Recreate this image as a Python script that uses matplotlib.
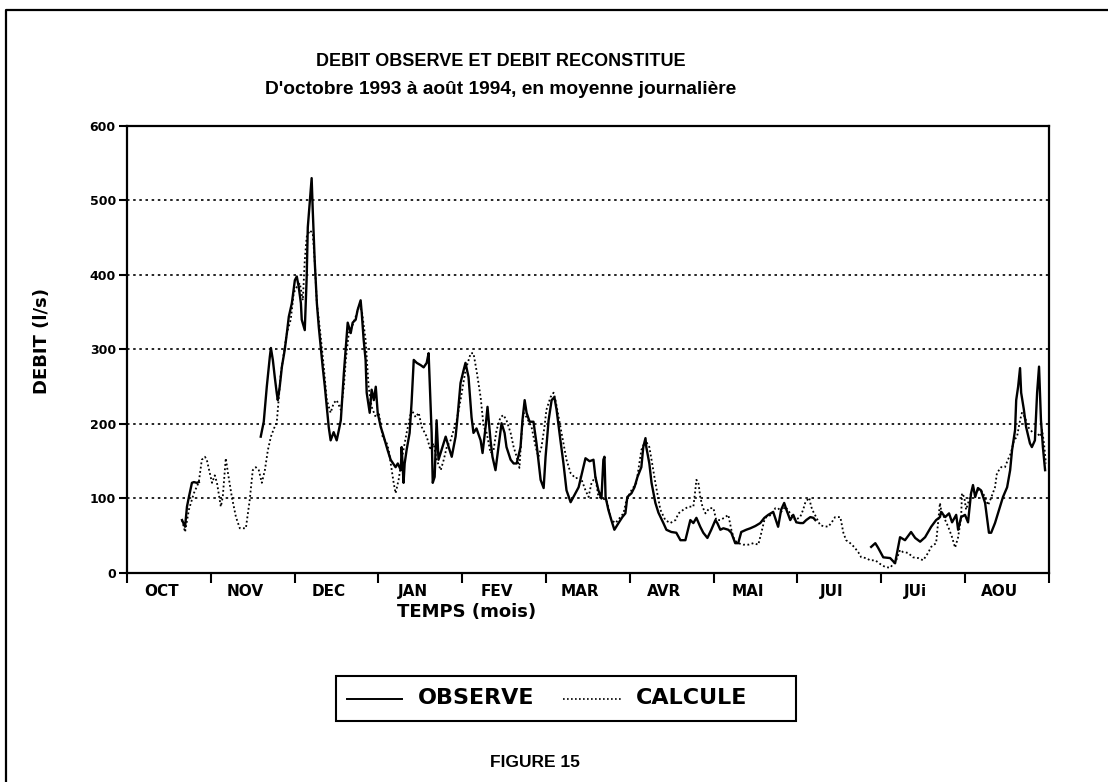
import numpy as np
import matplotlib
matplotlib.use("Agg")
from matplotlib import pyplot as plt
from matplotlib.patches import Rectangle
from matplotlib.lines import Line2D

# Month labels (oct 1993 -> aug 1994), x axis in days from 1 october
months = ["OCT", "NOV", "DEC", "JAN", "FEV", "MAR", "AVR", "MAI", "JUI", "JUi", "AOU"]
n_days = 335

# Observed flow (l/s); nan marks missing records
obs_day = [20.0, 21.1, 21.8, 22.5, 23.6, 24.3, 25.4, 26.1, np.nan,
           48.6, 49.7, 50.8, 51.9, 52.3, 53.0, 53.7, 54.4, 54.8, 55.5, 56.3, 57.3, 58.1, 58.8,
           59.9, 61.0, 61.7, 62.4, 63.2, 63.5, 64.6, 65.3, 65.7, 66.4, 67.1, 67.5, 68.2, 69.0,
           69.7, 70.4, 71.1, 71.9, 72.6, 73.3, 74.0, 75.1, 76.2, 77.0, 77.7, 78.8, 79.5, 80.2,
           81.3, 82.0, 83.1, 83.8, 84.9, 85.3, 86.0, 86.7, 87.1, 88.2, 88.9, 89.7, 90.4, 91.1,
           92.2, 92.9, 94.0, 94.7, 95.8, 97.6, 98.4, 99.5, 99.8, 100.5, 100.9, 101.6, 102.7,
           103.4, 104.2, 105.3, 106.7, 107.8, 108.9, 109.6, 110.0, 110.7, 111.1, 111.8, 112.5,
           113.2, 114.3, 115.8, 116.9, 118.0, 119.4, 120.1, 121.2, 122.3, 123.0, 124.1, 125.2,
           125.9, 127.0, 128.5, 129.2, 130.3, 131.0, 132.1, 132.8, 133.9, 135.0, 136.1, 137.2,
           137.9, 139.4, 140.5, 141.6, 143.0, 143.7, 144.5, 145.2, 146.3, 147.7, 148.8, 150.3,
           151.4, 152.1, 153.2, 154.3, 155.3, 156.1, 157.5, 158.6, 159.7, 161.2, 162.2, 164.1,
           166.6, 168.1, 169.5, 170.2, 171.3, 172.4, 173.1, 173.5, 173.9, 174.9, 176.0, 177.1,
           178.6, 180.0, 181.1, 181.8, 183.3, 184.4, 185.5, 186.9, 187.6, 188.4, 188.7, 189.8,
           190.6, 192.0, 193.1, 194.9, 196.0, 197.8, 199.6, 201.1, 202.9, 204.7, 205.8, 206.9,
           208.3, 209.4, 210.9, 212.3, 213.8, 214.5, 215.6, 216.7, 218.5, 219.6, 221.0, 222.1,
           223.2, 225.0, 226.5, 228.3, 230.1, 231.6, 233.0, 234.8, 236.6, 237.7, 238.8, 239.6,
           241.0, 242.1, 243.2, 244.6, 245.7, 246.8, 248.3, 249.4, 250.1, np.nan,
           270.4, 271.9, 272.9, 274.8, 277.3, 279.1, 279.5, 280.9, 282.7, 284.9, 286.4, 288.2,
           290.0, 292.2, 294.0, 295.4, 295.8, 297.3, 298.7, 299.8, 301.3, 302.0, 303.1, 304.5,
           305.6, 306.7, 307.4, 308.2, 309.2, 310.3, 311.8, 313.2, 314.0, 315.4, 316.9, 318.3,
           319.8, 320.9, 321.6, 322.7, 323.1, 323.8, 324.5, 324.9, 325.9, 326.7, 328.1, 328.8,
           329.9, 330.7, 331.4, 332.1, 332.8, 333.6]
obs_val = [71, 62, 89, 102, 121, 122, 121, 122, np.nan,
           183, 203, 250, 290, 302, 286, 263, 242, 232, 250, 277, 299, 322, 344,
           362, 393, 398, 384, 362, 340, 326, 397, 464, 497, 530, 487, 420, 362,
           330, 303, 277, 250, 223, 196, 178, 189, 178, 192, 205, 268, 303, 336,
           322, 336, 340, 353, 366, 349, 313, 286, 242, 215, 246, 232, 250, 215,
           196, 188, 174, 165, 152, 142, 147, 138, 169, 121, 147, 165, 188,
           228, 286, 282, 279, 276, 282, 295, 255, 188, 121, 129, 205,
           152, 165, 183, 169, 156, 183, 209, 255, 272, 282, 263, 209,
           188, 194, 178, 161, 196, 223, 178, 156, 138, 169, 201, 188,
           169, 152, 147, 147, 169, 205, 232, 215, 203, 203, 174, 125,
           114, 156, 205, 232, 236, 219, 178, 147, 111, 95, 102, 115,
           154, 150, 152, 129, 111, 100, 152, 156, 102, 85, 71, 58,
           67, 75, 80, 102, 107, 115, 129, 142, 169, 181, 169, 147,
           121, 94, 81, 67, 58, 55, 54, 44, 44, 71, 67, 74,
           62, 54, 47, 58, 71, 67, 58, 60, 58, 54, 40, 40,
           55, 58, 60, 63, 67, 74, 78, 82, 62, 85, 94, 85,
           71, 78, 68, 67, 67, 71, 75, 74, 71, np.nan,
           35, 40, 34, 21, 20, 13, 21, 48, 44, 55, 47, 42,
           48, 62, 71, 75, 82, 75, 80, 68, 78, 58, 75, 78,
           68, 107, 118, 102, 114, 111, 94, 54, 54, 67, 85, 102,
           115, 138, 165, 192, 232, 250, 275, 242, 219, 196, 174, 169,
           178, 242, 277, 205, 169, 138]

# Reconstituted (model) flow (l/s)
calc_day = [20.0, 21.1, 22.5, 24.3, 26.1, 27.2, 28.3, 29.0, 30.1, 30.9, 31.9, 32.7, 34.1,
            34.8, 35.9, 36.7, 38.1, 39.6, 41.0, 42.1, 43.2, 44.6, 45.7, 46.8, 47.9, 49.0,
            50.1, 51.2, 52.3, 53.4, 54.4, 55.9, 57.0, 58.1, 59.5, 60.6, 61.7, 62.8, 63.9,
            64.6, 65.3, 66.4, 67.5, 68.2, 69.0, 70.4, 71.5, 72.6, 74.0, 75.1, 76.2, 77.7,
            78.8, 79.5, 80.6, 81.7, 83.1, 84.2, 85.3, 86.7, 87.8, 88.9, 90.4, 91.5, 92.9,
            94.4, 95.1, 96.9, 97.6, 98.7, 99.8, 101.6, 103.4, 104.9, 106.0, 107.1, 108.9,
            110.3, 111.4, 112.5, 114.0, 115.1, 116.2, 117.6, 118.7, 119.8, 121.2, 123.0,
            124.9, 125.9, 127.0, 128.5, 129.6, 130.7, 132.1, 133.2, 134.3, 135.7, 136.8,
            137.9, 139.4, 140.5, 141.6, 142.6, 143.4, 144.1, 145.2, 147.0, 148.5, 149.5,
            150.6, 151.7, 152.4, 153.9, 155.0, 155.7, 157.5, 158.6, 159.7, 161.2, 163.0,
            164.8, 166.6, 167.7, 168.8, 170.2, 171.3, 174.2, 176.0, 177.5, 179.3, 180.4,
            181.5, 183.3, 185.1, 186.9, 188.4, 189.8, 190.6, 192.0, 193.8, 195.6, 197.4,
            199.3, 200.4, 202.2, 204.0, 205.8, 206.5, 206.9, 207.6, 208.3, 209.1, 210.2,
            211.6, 213.1, 214.1, 215.6, 217.4, 218.5, 219.6, 220.7, 222.1, 223.9, 225.8,
            227.6, 229.4, 230.5, 231.6, 232.3, 234.1, 235.6, 236.6, 237.7, 239.2, 241.0,
            242.8, 244.6, 245.7, 246.5, 247.9, 248.6, 249.4, 250.4, 251.9, 253.0, 254.8,
            255.9, 257.3, 259.2, 260.3, 261.3, 262.8, 264.2, 265.7, 266.8, 268.6, 270.0,
            271.9, 273.7, 275.5, 277.3, 279.5, 280.9, 282.0, 283.8, 285.6, 287.5, 289.3,
            291.1, 292.2, 294.0, 294.7, 295.4, 295.8, 297.3, 298.4, 299.8, 300.9, 302.0,
            303.1, 303.4, 304.2, 304.9, 306.7, 308.2, 310.3, 311.8, 312.9, 314.0, 315.4,
            316.1, 317.6, 319.0, 320.1, 321.2, 322.3, 323.4, 324.5, 325.2, 326.3, 327.4,
            329.2, 330.7, 331.8, 332.5, 333.2, 333.9]
calc_val = [71, 55, 85, 107, 122, 152, 156, 152, 134, 121, 131, 121, 89,
            102, 154, 134, 102, 75, 60, 60, 60, 98, 138, 142, 138, 121,
            138, 165, 183, 194, 201, 268, 295, 322, 340, 376, 384, 389, 366,
            420, 451, 460, 456, 420, 362, 317, 277, 232, 215, 228, 232, 219,
            250, 286, 322, 330, 344, 357, 353, 313, 250, 223, 209, 215, 183,
            174, 165, 121, 107, 125, 152, 188, 219, 209, 215, 196, 183,
            165, 174, 152, 138, 152, 169, 178, 192, 205, 232, 272,
            295, 295, 272, 236, 196, 188, 161, 165, 192, 209, 212,
            205, 188, 169, 156, 141, 188, 215, 209, 196, 169, 156,
            169, 196, 219, 236, 242, 232, 196, 174, 152, 134, 127,
            129, 111, 102, 121, 129, 102, 98, 71, 67, 75, 80,
            98, 111, 121, 165, 178, 169, 152, 121, 85, 71, 67,
            71, 80, 85, 89, 89, 111, 125, 122, 102, 89, 80,
            87, 87, 71, 71, 75, 78, 58, 44, 40, 38, 38,
            40, 38, 54, 71, 75, 78, 87, 87, 82, 89, 80,
            71, 75, 85, 95, 101, 89, 82, 75, 64, 63, 62,
            67, 75, 75, 54, 44, 40, 35, 28, 21, 20, 17,
            17, 12, 8, 7, 17, 31, 28, 27, 21, 20, 17,
            27, 35, 40, 67, 94, 85, 71, 62, 48, 34, 48,
            75, 107, 102, 85, 107, 111, 111, 102, 91, 101, 115,
            134, 142, 142, 152, 161, 178, 183, 205, 215, 209, 196,
            188, 188, 183, 192, 174, 147]

yticks = [0, 100, 200, 300, 400, 500, 600]

plt.rcParams["font.family"] = ["Liberation Sans", "DejaVu Sans"]
plt.rcParams["font.weight"] = "bold"
wide = ["DejaVu Sans"]

fig = plt.figure(figsize=(11.08, 7.82), dpi=100)
fig.patch.set_facecolor("white")

# outer frame of the page (left and top edges)
frame = Line2D([0.005, 0.005, 0.999], [0.0, 0.987, 0.987],
               transform=fig.transFigure, color="k", lw=1.6)
fig.add_artist(frame)

ax = fig.add_axes([0.1146, 0.2673, 0.8321, 0.5716])
ax.plot(calc_day, calc_val, color="k", lw=1.3, linestyle=(0, (1, 1.4)))
ax.plot(obs_day, obs_val, color="k", lw=1.7)

ax.set_xlim(0, n_days)
ax.set_ylim(0, 600)
edges = np.linspace(0, n_days, len(months) + 1)
ax.set_xticks(edges)
ax.set_xticklabels([])
ax.set_xticks((edges[:-1] + edges[1:]) / 2 - 2.8, minor=True)
ax.set_xticklabels(months, minor=True, fontsize=11, fontweight="bold", family=wide)
ax.tick_params(axis="x", which="major", direction="out", length=7, width=1.5)
ax.tick_params(axis="x", which="minor", length=0, pad=8)
ax.set_yticks(yticks)
ax.set_yticklabels([str(v) for v in yticks], fontsize=9, fontweight="bold", family=wide)
ax.tick_params(axis="y", direction="out", length=6, width=1.5, pad=2)

for v in yticks[1:-1]:
    ax.axhline(v, color="k", lw=1.2, linestyle=(0, (1.5, 2.2)), zorder=0)

for s in ax.spines.values():
    s.set_linewidth(1.6)

ax.set_ylabel("DEBIT (l/s)", fontsize=13, fontweight="bold", family=wide)
ax.yaxis.set_label_coords(-0.082, 0.52)
fig.text(0.421, 0.217, "TEMPS (mois)", ha="center", va="center",
         fontsize=13, fontweight="bold", family=wide)

fig.text(0.452, 0.921, "DEBIT OBSERVE ET DEBIT RECONSTITUE", ha="center", va="center",
         fontsize=13, fontweight="bold")
fig.text(0.452, 0.885, "D'octobre 1993 à août 1994, en moyenne journalière", ha="center",
         va="center", fontsize=13.8, fontweight="bold")

# legend box
lx0, ly0, lw_, lh = 336 / 1108, 1 - 721 / 782, 460 / 1108, 45 / 782
fig.add_artist(Rectangle((lx0, ly0), lw_, lh, transform=fig.transFigure,
                         fill=False, edgecolor="k", lw=1.5))
ym = ly0 + lh / 2
fig.add_artist(Line2D([347 / 1108, 402 / 1108], [ym, ym], transform=fig.transFigure,
                      color="k", lw=1.4))
fig.text(418 / 1108, ym, "OBSERVE", ha="left", va="center", fontsize=16,
         fontweight="bold", family=wide)
fig.add_artist(Line2D([563 / 1108, 622 / 1108], [ym, ym], transform=fig.transFigure,
                      color="k", lw=1.2, linestyle=(0, (1, 1.4))))
fig.text(636 / 1108, ym, "CALCULE", ha="left", va="center", fontsize=16,
         fontweight="bold", family=wide)

fig.text(0.483, 0.025, "FIGURE 15", ha="center", va="center", fontsize=12.5,
         fontweight="bold")

fig.savefig("out.png", dpi=100, facecolor="white")
